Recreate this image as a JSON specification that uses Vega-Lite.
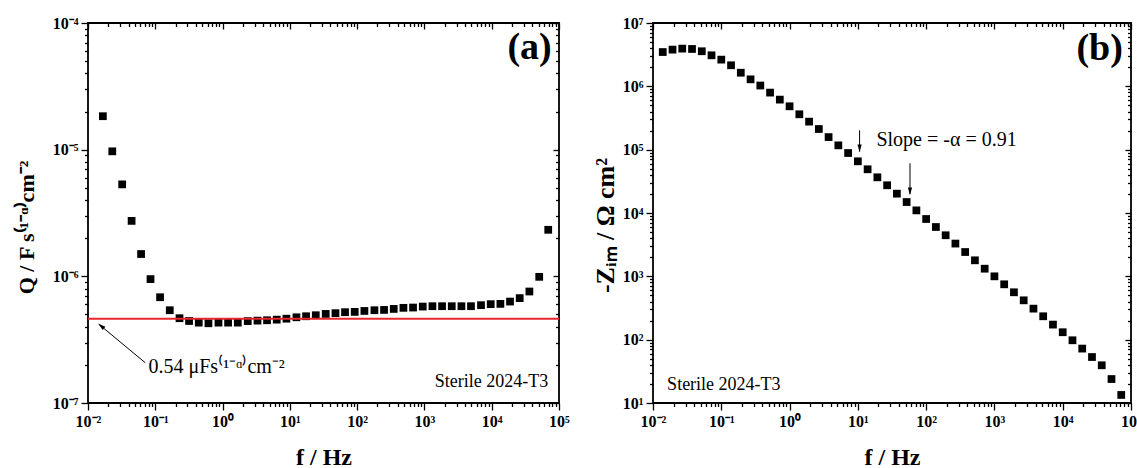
{
  "$schema": "https://vega.github.io/schema/vega-lite/v6.json",
  "background": "white",
  "padding": {"left": 14, "top": 14, "right": 0, "bottom": 0},
  "spacing": 94,
  "bounds": "flush",
  "config": {
    "view": {"stroke": "black", "strokeWidth": 1.8},
    "axis": {
      "grid": false, "domain": false,
      "labelFont": "Liberation Serif", "labelFontSize": 16, "labelFontWeight": "bold", "labelColor": "black",
      "labelFlush": false, "labelOverlap": false, "labelBound": false, "labelPadding": 3,
      "tickColor": "black", "tickWidth": 1.3,
      "titleFont": "Liberation Serif", "titleFontWeight": "bold", "titleColor": "black"
    },
    "text": {"font": "Liberation Serif", "color": "black"}
  },
  "datasets": {
    "qdata": [
      {"f": 0.01663, "Q": 1.837e-5}, {"f": 0.02296, "Q": 9.70e-6}, {"f": 0.03221, "Q": 5.32e-6}, {"f": 0.04446, "Q": 2.74e-6},
      {"f": 0.06152, "Q": 1.50e-6}, {"f": 0.08492, "Q": 9.51e-7}, {"f": 0.1178, "Q": 6.84e-7}, {"f": 0.1641, "Q": 5.40e-7},
      {"f": 0.2291, "Q": 4.67e-7}, {"f": 0.3177, "Q": 4.44e-7}, {"f": 0.4426, "Q": 4.31e-7}, {"f": 0.6166, "Q": 4.26e-7},
      {"f": 0.8690, "Q": 4.31e-7}, {"f": 1.208, "Q": 4.31e-7}, {"f": 1.683, "Q": 4.31e-7}, {"f": 2.366, "Q": 4.43e-7},
      {"f": 3.304, "Q": 4.47e-7}, {"f": 4.581, "Q": 4.50e-7}, {"f": 6.383, "Q": 4.55e-7}, {"f": 8.892, "Q": 4.63e-7},
      {"f": 12.53, "Q": 4.75e-7}, {"f": 17.42, "Q": 4.84e-7}, {"f": 24.27, "Q": 4.93e-7}, {"f": 34.12, "Q": 5.05e-7},
      {"f": 47.64, "Q": 5.12e-7}, {"f": 66.07, "Q": 5.21e-7}, {"f": 92.04, "Q": 5.24e-7}, {"f": 128.2, "Q": 5.33e-7},
      {"f": 180.7, "Q": 5.40e-7}, {"f": 251.2, "Q": 5.43e-7}, {"f": 349.9, "Q": 5.53e-7}, {"f": 487.5, "Q": 5.64e-7},
      {"f": 677.5, "Q": 5.67e-7}, {"f": 944.1, "Q": 5.77e-7}, {"f": 1315, "Q": 5.81e-7}, {"f": 1828, "Q": 5.81e-7},
      {"f": 2547, "Q": 5.81e-7}, {"f": 3548, "Q": 5.81e-7}, {"f": 4920, "Q": 5.81e-7}, {"f": 6934, "Q": 5.92e-7},
      {"f": 9661, "Q": 6.03e-7}, {"f": 13460, "Q": 6.06e-7}, {"f": 18710, "Q": 6.32e-7}, {"f": 26060, "Q": 6.73e-7},
      {"f": 36310, "Q": 7.59e-7}, {"f": 50820, "Q": 9.91e-7}, {"f": 69180, "Q": 2.33e-6}
    ],
    "zdata": [
      {"f": 0.013895, "Z": 3.48e6}, {"f": 0.019307, "Z": 3.80e6}, {"f": 0.026827, "Z": 3.94e6}, {"f": 0.037276, "Z": 3.89e6},
      {"f": 0.051795, "Z": 3.58e6}, {"f": 0.071969, "Z": 3.09e6}, {"f": 0.1, "Z": 2.64e6}, {"f": 0.13895, "Z": 2.15e6},
      {"f": 0.19307, "Z": 1.64e6}, {"f": 0.26827, "Z": 1.29e6}, {"f": 0.37276, "Z": 1.03e6}, {"f": 0.51795, "Z": 7.96e5},
      {"f": 0.71969, "Z": 6.17e5}, {"f": 1, "Z": 4.84e5}, {"f": 1.3895, "Z": 3.62e5}, {"f": 1.9307, "Z": 2.77e5},
      {"f": 2.6827, "Z": 2.12e5}, {"f": 3.7276, "Z": 1.58e5}, {"f": 5.1795, "Z": 1.17e5}, {"f": 7.1969, "Z": 8.85e4},
      {"f": 10, "Z": 6.55e4}, {"f": 13.895, "Z": 4.90e4}, {"f": 19.307, "Z": 3.66e4}, {"f": 26.827, "Z": 2.74e4},
      {"f": 37.276, "Z": 2.02e4}, {"f": 51.795, "Z": 1.49e4}, {"f": 71.969, "Z": 1.10e4}, {"f": 100, "Z": 8040},
      {"f": 138.95, "Z": 6010}, {"f": 193.07, "Z": 4450}, {"f": 268.27, "Z": 3290}, {"f": 372.76, "Z": 2420},
      {"f": 517.95, "Z": 1790}, {"f": 719.69, "Z": 1320}, {"f": 1000, "Z": 1000}, {"f": 1389.5, "Z": 748},
      {"f": 1930.7, "Z": 560}, {"f": 2682.7, "Z": 418}, {"f": 3727.6, "Z": 309}, {"f": 5179.5, "Z": 234},
      {"f": 7196.9, "Z": 173}, {"f": 10000, "Z": 131}, {"f": 13895, "Z": 97.8}, {"f": 19307, "Z": 72.3},
      {"f": 26827, "Z": 53.2}, {"f": 37276, "Z": 39.4}, {"f": 51795, "Z": 23.9}, {"f": 71969, "Z": 13.4}
    ]
  },
  "hconcat": [
    {
      "width": 471, "height": 380,
      "data": {"name": "qdata"},
      "resolve": {"axis": {"x": "independent", "y": "independent"}},
      "layer": [
        {
          "mark": {"type": "square", "size": 60, "color": "black", "opacity": 1},
          "encoding": {
            "x": {"field": "f", "type": "quantitative",
              "scale": {"type": "log", "domain": [0.01, 100000], "nice": false},
              "axis": {"orient": "bottom", "values": [0.01, 0.1, 1, 10, 100, 1000, 10000, 100000], "tickSize": 7,
                "labelExpr": "'10' + replace(replace(replace(replace(replace(replace(replace(replace(replace(toString(round(log(datum.value)/LN10)),'-','⁻'),'0','⁰'),'1','¹'),'2','²'),'3','³'),'4','⁴'),'5','⁵'),'6','⁶'),'7','⁷')",
                "title": "f / Hz", "titleFontSize": 24, "titleY": 61, "titleBaseline": "alphabetic"}},
            "y": {"field": "Q", "type": "quantitative",
              "scale": {"type": "log", "domain": [1e-7, 1e-4], "nice": false},
              "axis": {"orient": "left", "values": [1e-7, 1e-6, 1e-5, 1e-4], "tickSize": 7,
                "labelExpr": "'10' + replace(replace(replace(replace(replace(replace(replace(replace(replace(toString(round(log(datum.value)/LN10)),'-','⁻'),'0','⁰'),'1','¹'),'2','²'),'3','³'),'4','⁴'),'5','⁵'),'6','⁶'),'7','⁷')",
                "title": "Q / F s⁽¹⁻ᵅ⁾cm⁻²", "titleFontSize": 22, "titleX": -62, "titleY": 204, "titleBaseline": "middle", "titleAngle": 270}}
          }
        },
        {
          "mark": {"type": "square", "opacity": 0},
          "encoding": {
            "x": {"field": "f", "type": "quantitative", "scale": {"type": "log", "domain": [0.01, 100000], "nice": false},
              "axis": {"orient": "bottom", "labels": false, "title": null, "tickSize": 3.5,
                "values": [0.02,0.03,0.04,0.05,0.06,0.07,0.08,0.09,0.2,0.3,0.4,0.5,0.6,0.7,0.8,0.9,2,3,4,5,6,7,8,9,20,30,40,50,60,70,80,90,200,300,400,500,600,700,800,900,2000,3000,4000,5000,6000,7000,8000,9000,20000,30000,40000,50000,60000,70000,80000,90000]}},
            "y": {"field": "Q", "type": "quantitative", "scale": {"type": "log", "domain": [1e-7, 1e-4], "nice": false},
              "axis": {"orient": "left", "labels": false, "title": null, "tickSize": 3.5,
                "values": [2e-7,3e-7,4e-7,5e-7,6e-7,7e-7,8e-7,9e-7,2e-6,3e-6,4e-6,5e-6,6e-6,7e-6,8e-6,9e-6,2e-5,3e-5,4e-5,5e-5,6e-5,7e-5,8e-5,9e-5]}}
          }
        },
        {
          "mark": {"type": "square", "opacity": 0},
          "encoding": {
            "x": {"field": "f", "type": "quantitative", "scale": {"type": "log", "domain": [0.01, 100000], "nice": false},
              "axis": {"orient": "top", "labels": false, "title": null, "tickSize": -6, "values": [0.01, 0.1, 1, 10, 100, 1000, 10000, 100000]}},
            "y": {"field": "Q", "type": "quantitative", "scale": {"type": "log", "domain": [1e-7, 1e-4], "nice": false},
              "axis": {"orient": "right", "labels": false, "title": null, "tickSize": -6, "values": [1e-7, 1e-6, 1e-5, 1e-4]}}
          }
        },
        {
          "mark": {"type": "square", "opacity": 0},
          "encoding": {
            "x": {"field": "f", "type": "quantitative", "scale": {"type": "log", "domain": [0.01, 100000], "nice": false},
              "axis": {"orient": "top", "labels": false, "title": null, "tickSize": -3.5,
                "values": [0.02,0.03,0.04,0.05,0.06,0.07,0.08,0.09,0.2,0.3,0.4,0.5,0.6,0.7,0.8,0.9,2,3,4,5,6,7,8,9,20,30,40,50,60,70,80,90,200,300,400,500,600,700,800,900,2000,3000,4000,5000,6000,7000,8000,9000,20000,30000,40000,50000,60000,70000,80000,90000]}},
            "y": {"field": "Q", "type": "quantitative", "scale": {"type": "log", "domain": [1e-7, 1e-4], "nice": false},
              "axis": {"orient": "right", "labels": false, "title": null, "tickSize": -3.5,
                "values": [2e-7,3e-7,4e-7,5e-7,6e-7,7e-7,8e-7,9e-7,2e-6,3e-6,4e-6,5e-6,6e-6,7e-6,8e-6,9e-6,2e-5,3e-5,4e-5,5e-5,6e-5,7e-5,8e-5,9e-5]}}
          }
        },
        {
          "data": {"values": [{}]},
          "mark": {"type": "rule", "color": "#e8262c", "strokeWidth": 2},
          "encoding": {"y": {"datum": 4.63e-7, "type": "quantitative", "axis": null}}
        },
        {
          "data": {"values": [{}]},
          "mark": {"type": "rule", "color": "black", "strokeWidth": 1},
          "encoding": {
            "x": {"datum": 0.0708, "type": "quantitative", "axis": null},
            "y": {"datum": 2.08e-7, "type": "quantitative", "axis": null},
            "x2": {"datum": 0.0148},
            "y2": {"datum": 4.15e-7}
          }
        },
        {
          "data": {"values": [{}]},
          "mark": {"type": "point", "shape": "M0,0L-0.7,2.6L0.7,2.6Z", "filled": true, "color": "black", "opacity": 1, "size": 36, "angle": 309.5},
          "encoding": {
            "x": {"datum": 0.0141, "type": "quantitative", "axis": null},
            "y": {"datum": 4.24e-7, "type": "quantitative", "axis": null}
          }
        },
        {
          "data": {"values": [{}]},
          "mark": {"type": "text", "text": "0.54 μFs⁽¹⁻ᵅ⁾cm⁻²", "fontSize": 20, "align": "left", "baseline": "middle"},
          "encoding": {
            "x": {"datum": 0.0793, "type": "quantitative", "axis": null},
            "y": {"datum": 1.94e-7, "type": "quantitative", "axis": null}
          }
        },
        {
          "data": {"values": [{}]},
          "mark": {"type": "text", "text": "Sterile 2024-T3", "fontSize": 18, "align": "right", "baseline": "middle"},
          "encoding": {
            "x": {"datum": 69000, "type": "quantitative", "axis": null},
            "y": {"datum": 1.46e-7, "type": "quantitative", "axis": null}
          }
        },
        {
          "data": {"values": [{}]},
          "mark": {"type": "text", "text": "(a)", "fontSize": 38, "fontWeight": "bold", "align": "right", "baseline": "middle"},
          "encoding": {
            "x": {"datum": 78000, "type": "quantitative", "axis": null},
            "y": {"datum": 6.3e-5, "type": "quantitative", "axis": null}
          }
        }
      ]
    },
    {
      "width": 478, "height": 380,
      "data": {"name": "zdata"},
      "resolve": {"axis": {"x": "independent", "y": "independent"}},
      "layer": [
        {
          "mark": {"type": "square", "size": 60, "color": "black", "opacity": 1},
          "encoding": {
            "x": {"field": "f", "type": "quantitative",
              "scale": {"type": "log", "domain": [0.01, 100000], "nice": false},
              "axis": {"orient": "bottom", "values": [0.01, 0.1, 1, 10, 100, 1000, 10000, 100000], "tickSize": 7,
                "labelExpr": "'10' + replace(replace(replace(replace(replace(replace(replace(replace(replace(toString(round(log(datum.value)/LN10)),'-','⁻'),'0','⁰'),'1','¹'),'2','²'),'3','³'),'4','⁴'),'5','⁵'),'6','⁶'),'7','⁷')",
                "title": "f / Hz", "titleFontSize": 24, "titleY": 61, "titleBaseline": "alphabetic"}},
            "y": {"field": "Z", "type": "quantitative",
              "scale": {"type": "log", "domain": [10, 10000000], "nice": false},
              "axis": {"orient": "left", "values": [10, 100, 1000, 10000, 100000, 1000000, 10000000], "tickSize": 7,
                "labelExpr": "'10' + replace(replace(replace(replace(replace(replace(replace(replace(replace(toString(round(log(datum.value)/LN10)),'-','⁻'),'0','⁰'),'1','¹'),'2','²'),'3','³'),'4','⁴'),'5','⁵'),'6','⁶'),'7','⁷')",
                "title": "-Zᵢₘ / Ω cm²", "titleFontSize": 26, "titleX": -48, "titleY": 202, "titleBaseline": "middle", "titleAngle": 270}}
          }
        },
        {
          "mark": {"type": "square", "opacity": 0},
          "encoding": {
            "x": {"field": "f", "type": "quantitative", "scale": {"type": "log", "domain": [0.01, 100000], "nice": false},
              "axis": {"orient": "bottom", "labels": false, "title": null, "tickSize": 3.5,
                "values": [0.02,0.03,0.04,0.05,0.06,0.07,0.08,0.09,0.2,0.3,0.4,0.5,0.6,0.7,0.8,0.9,2,3,4,5,6,7,8,9,20,30,40,50,60,70,80,90,200,300,400,500,600,700,800,900,2000,3000,4000,5000,6000,7000,8000,9000,20000,30000,40000,50000,60000,70000,80000,90000]}},
            "y": {"field": "Z", "type": "quantitative", "scale": {"type": "log", "domain": [10, 10000000], "nice": false},
              "axis": {"orient": "left", "labels": false, "title": null, "tickSize": 3.5,
                "values": [20,30,40,50,60,70,80,90,200,300,400,500,600,700,800,900,2000,3000,4000,5000,6000,7000,8000,9000,20000,30000,40000,50000,60000,70000,80000,90000,200000,300000,400000,500000,600000,700000,800000,900000,2000000,3000000,4000000,5000000,6000000,7000000,8000000,9000000]}}
          }
        },
        {
          "mark": {"type": "square", "opacity": 0},
          "encoding": {
            "x": {"field": "f", "type": "quantitative", "scale": {"type": "log", "domain": [0.01, 100000], "nice": false},
              "axis": {"orient": "top", "labels": false, "title": null, "tickSize": -6, "values": [0.01, 0.1, 1, 10, 100, 1000, 10000, 100000]}},
            "y": {"field": "Z", "type": "quantitative", "scale": {"type": "log", "domain": [10, 10000000], "nice": false},
              "axis": {"orient": "right", "labels": false, "title": null, "tickSize": -6, "values": [10, 100, 1000, 10000, 100000, 1000000, 10000000]}}
          }
        },
        {
          "mark": {"type": "square", "opacity": 0},
          "encoding": {
            "x": {"field": "f", "type": "quantitative", "scale": {"type": "log", "domain": [0.01, 100000], "nice": false},
              "axis": {"orient": "top", "labels": false, "title": null, "tickSize": -3.5,
                "values": [0.02,0.03,0.04,0.05,0.06,0.07,0.08,0.09,0.2,0.3,0.4,0.5,0.6,0.7,0.8,0.9,2,3,4,5,6,7,8,9,20,30,40,50,60,70,80,90,200,300,400,500,600,700,800,900,2000,3000,4000,5000,6000,7000,8000,9000,20000,30000,40000,50000,60000,70000,80000,90000]}},
            "y": {"field": "Z", "type": "quantitative", "scale": {"type": "log", "domain": [10, 10000000], "nice": false},
              "axis": {"orient": "right", "labels": false, "title": null, "tickSize": -3.5,
                "values": [20,30,40,50,60,70,80,90,200,300,400,500,600,700,800,900,2000,3000,4000,5000,6000,7000,8000,9000,20000,30000,40000,50000,60000,70000,80000,90000,200000,300000,400000,500000,600000,700000,800000,900000,2000000,3000000,4000000,5000000,6000000,7000000,8000000,9000000]}}
          }
        },
        {
          "data": {"values": [{}]},
          "mark": {"type": "rule", "color": "black", "strokeWidth": 1},
          "encoding": {
            "x": {"datum": 10.6, "type": "quantitative", "axis": null},
            "y": {"datum": 2.02e5, "type": "quantitative", "axis": null},
            "y2": {"datum": 9.3e4}
          }
        },
        {
          "data": {"values": [{}]},
          "mark": {"type": "rule", "color": "black", "strokeWidth": 1},
          "encoding": {
            "x": {"datum": 58, "type": "quantitative", "axis": null},
            "y": {"datum": 6.1e4, "type": "quantitative", "axis": null},
            "y2": {"datum": 2.0e4}
          }
        },
        {
          "data": {"values": [{}]},
          "mark": {"type": "point", "shape": "M0,0L-0.7,2.6L0.7,2.6Z", "filled": true, "color": "black", "opacity": 1, "size": 36, "angle": 180},
          "encoding": {
            "x": {"datum": 10.6, "type": "quantitative", "axis": null},
            "y": {"datum": 9.1e4, "type": "quantitative", "axis": null}
          }
        },
        {
          "data": {"values": [{}]},
          "mark": {"type": "point", "shape": "M0,0L-0.7,2.6L0.7,2.6Z", "filled": true, "color": "black", "opacity": 1, "size": 36, "angle": 180},
          "encoding": {
            "x": {"datum": 58, "type": "quantitative", "axis": null},
            "y": {"datum": 1.9e4, "type": "quantitative", "axis": null}
          }
        },
        {
          "data": {"values": [{}]},
          "mark": {"type": "text", "text": "Slope = -α = 0.91", "fontSize": 20, "align": "left", "baseline": "middle"},
          "encoding": {
            "x": {"datum": 18.7, "type": "quantitative", "axis": null},
            "y": {"datum": 1.41e5, "type": "quantitative", "axis": null}
          }
        },
        {
          "data": {"values": [{}]},
          "mark": {"type": "text", "text": "Sterile 2024-T3", "fontSize": 18, "align": "left", "baseline": "middle"},
          "encoding": {
            "x": {"datum": 0.0161, "type": "quantitative", "axis": null},
            "y": {"datum": 19, "type": "quantitative", "axis": null}
          }
        },
        {
          "data": {"values": [{}]},
          "mark": {"type": "text", "text": "(b)", "fontSize": 38, "fontWeight": "bold", "align": "right", "baseline": "middle"},
          "encoding": {
            "x": {"datum": 76000, "type": "quantitative", "axis": null},
            "y": {"datum": 3.85e6, "type": "quantitative", "axis": null}
          }
        }
      ]
    }
  ]
}
